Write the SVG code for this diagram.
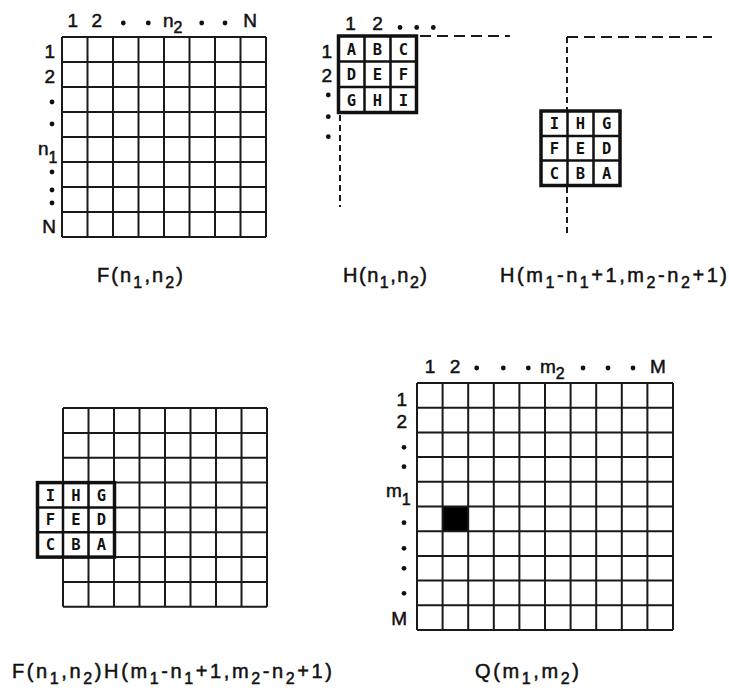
<svg xmlns="http://www.w3.org/2000/svg" width="729" height="697" viewBox="0 0 729 697">
<style>
.grid{fill:none;stroke:#1a1a1a;stroke-width:2}
.box{fill:#fff;stroke:#111;stroke-width:3.5}
.inner{fill:none;stroke:#111;stroke-width:2.5}
.dashh{fill:none;stroke:#1a1a1a;stroke-width:2;stroke-dasharray:11 6}
.dashv{fill:none;stroke:#1a1a1a;stroke-width:2;stroke-dasharray:6 4}
.ax{font-family:"Liberation Sans","DejaVu Sans",sans-serif;font-size:19px;fill:#111;stroke:#111;stroke-width:0.5}
.sub{font-size:16px}
.mid{text-anchor:middle}
.end{text-anchor:end}
.lt{font-family:"DejaVu Sans Mono","Liberation Mono",monospace;font-size:15.5px;font-weight:bold;fill:#111;text-anchor:middle}
.lab{font-family:"Liberation Sans","DejaVu Sans",sans-serif;font-size:20px;fill:#111;stroke:#111;stroke-width:0.5}
.dot{fill:#111}
</style>
<rect width="729" height="697" fill="#fff"/>

<g id="grid-F">
<path class="grid" d="M62 37V237M87.5 37V237M113 37V237M138.5 37V237M164 37V237M189.5 37V237M215 37V237M240.5 37V237M266 37V237M62 37H266M62 62H266M62 87H266M62 112H266M62 137H266M62 162H266M62 187H266M62 212H266M62 237H266"/>
<text class="ax mid" x="72.7" y="27">1</text>
<text class="ax mid" x="96.7" y="27">2</text>
<circle class="dot" cx="123.3" cy="23" r="2.4"/>
<circle class="dot" cx="148.3" cy="23" r="2.4"/>
<text class="ax" x="163" y="27">n<tspan class="sub" dy="6">2</tspan></text>
<circle class="dot" cx="201.7" cy="23" r="2.4"/>
<circle class="dot" cx="225" cy="23" r="2.4"/>
<text class="ax mid" x="250" y="27">N</text>
<text class="ax end" x="55" y="58">1</text>
<text class="ax end" x="55" y="83">2</text>
<circle class="dot" cx="52" cy="102" r="2.4"/>
<circle class="dot" cx="52" cy="124" r="2.4"/>
<text class="ax" x="38" y="155">n<tspan class="sub" dy="8">1</tspan></text>
<circle class="dot" cx="52" cy="172" r="2.4"/>
<circle class="dot" cx="52" cy="190" r="2.4"/>
<circle class="dot" cx="52" cy="203" r="2.4"/>
<text class="ax end" x="56" y="233">N</text>
<text class="lab" x="97" y="281.5" textLength="86" lengthAdjust="spacing">F(n<tspan class="sub" dy="6">1</tspan><tspan dy="-6">,n</tspan><tspan class="sub" dy="6">2</tspan><tspan dy="-6">)</tspan></text>
</g>

<g id="grid-H">
<path class="dashh" d="M420 36H510"/>
<path class="dashv" d="M340 115V207"/>
<rect class="box" x="338.5" y="36" width="78" height="76.5"/>
<path class="inner" d="M364.5 36V112.5M390.5 36V112.5M338.5 61.5H416.5M338.5 87H416.5"/>
<text class="lt" x="351.5" y="54.5">A</text>
<text class="lt" x="377.5" y="54.5">B</text>
<text class="lt" x="403.5" y="54.5">C</text>
<text class="lt" x="351.5" y="80">D</text>
<text class="lt" x="377.5" y="80">E</text>
<text class="lt" x="403.5" y="80">F</text>
<text class="lt" x="351.5" y="105.5">G</text>
<text class="lt" x="377.5" y="105.5">H</text>
<text class="lt" x="403.5" y="105.5">I</text>
<text class="ax mid" x="350.5" y="30">1</text>
<text class="ax mid" x="377.5" y="30">2</text>
<circle class="dot" cx="400" cy="27.5" r="2.4"/>
<circle class="dot" cx="416.7" cy="27.5" r="2.4"/>
<circle class="dot" cx="433.3" cy="27.5" r="2.4"/>
<text class="ax mid" x="326.7" y="58">1</text>
<text class="ax mid" x="326.7" y="81.7">2</text>
<circle class="dot" cx="328.3" cy="95" r="2.4"/>
<circle class="dot" cx="328.3" cy="116.7" r="2.4"/>
<circle class="dot" cx="328.3" cy="136.7" r="2.4"/>
<text class="lab" x="343" y="281.5" textLength="84" lengthAdjust="spacing">H(n<tspan class="sub" dy="6">1</tspan><tspan dy="-6">,n</tspan><tspan class="sub" dy="6">2</tspan><tspan dy="-6">)</tspan></text>
</g>

<g id="grid-H-flipped">
<path class="dashh" d="M567 37H712"/>
<path class="dashv" d="M567 37V236"/>
<rect class="box" x="541" y="111" width="79" height="74.5"/>
<path class="inner" d="M567.5 111V185.5M593.5 111V185.5M541 136H620M541 160.5H620"/>
<text class="lt" x="554.5" y="129">I</text>
<text class="lt" x="580.5" y="129">H</text>
<text class="lt" x="606.7" y="129">G</text>
<text class="lt" x="554.5" y="153.5">F</text>
<text class="lt" x="580.5" y="153.5">E</text>
<text class="lt" x="606.7" y="153.5">D</text>
<text class="lt" x="554.5" y="178.5">C</text>
<text class="lt" x="580.5" y="178.5">B</text>
<text class="lt" x="606.7" y="178.5">A</text>
<text class="lab" x="500" y="281.5" textLength="227" lengthAdjust="spacing">H(m<tspan class="sub" dy="6">1</tspan><tspan dy="-6">-n</tspan><tspan class="sub" dy="6">1</tspan><tspan dy="-6">+1,m</tspan><tspan class="sub" dy="6">2</tspan><tspan dy="-6">-n</tspan><tspan class="sub" dy="6">2</tspan><tspan dy="-6">+1)</tspan></text>
</g>

<g id="grid-FH">
<path class="grid" d="M63 408V606.8M88.5 408V606.8M114 408V606.8M139.5 408V606.8M165 408V606.8M190.5 408V606.8M216 408V606.8M241.5 408V606.8M267 408V606.8M63 408H267M63 432.9H267M63 457.7H267M63 482.6H267M63 507.4H267M63 532.3H267M63 557.1H267M63 582H267M63 606.8H267"/>
<rect class="box" x="37.5" y="482.6" width="77" height="74.5"/>
<path class="inner" d="M63 482.6V557.1M88.5 482.6V557.1M37.5 507.4H114.5M37.5 532.3H114.5"/>
<text class="lt" x="50.3" y="500.5">I</text>
<text class="lt" x="75.8" y="500.5">H</text>
<text class="lt" x="101.3" y="500.5">G</text>
<text class="lt" x="50.3" y="525.3">F</text>
<text class="lt" x="75.8" y="525.3">E</text>
<text class="lt" x="101.3" y="525.3">D</text>
<text class="lt" x="50.3" y="550">C</text>
<text class="lt" x="75.8" y="550">B</text>
<text class="lt" x="101.3" y="550">A</text>
<text class="lab" x="12" y="678" textLength="320" lengthAdjust="spacing">F(n<tspan class="sub" dy="6">1</tspan><tspan dy="-6">,n</tspan><tspan class="sub" dy="6">2</tspan><tspan dy="-6">)H(m</tspan><tspan class="sub" dy="6">1</tspan><tspan dy="-6">-n</tspan><tspan class="sub" dy="6">1</tspan><tspan dy="-6">+1,m</tspan><tspan class="sub" dy="6">2</tspan><tspan dy="-6">-n</tspan><tspan class="sub" dy="6">2</tspan><tspan dy="-6">+1)</tspan></text>
</g>

<g id="grid-Q">
<rect x="442.6" y="506.5" width="25.6" height="24.7" fill="#000"/>
<path class="grid" d="M417 383V630M442.6 383V630M468.2 383V630M493.8 383V630M519.4 383V630M545 383V630M570.6 383V630M596.2 383V630M621.8 383V630M647.4 383V630M673 383V630M417 383H673M417 407.7H673M417 432.4H673M417 457.1H673M417 481.8H673M417 506.5H673M417 531.2H673M417 555.9H673M417 580.6H673M417 605.3H673M417 630H673"/>
<text class="ax mid" x="430" y="373">1</text>
<text class="ax mid" x="455" y="373">2</text>
<circle class="dot" cx="476.7" cy="368" r="2.4"/>
<circle class="dot" cx="503.3" cy="368" r="2.4"/>
<circle class="dot" cx="528.3" cy="368" r="2.4"/>
<text class="ax" x="540" y="373">m<tspan class="sub" dy="6">2</tspan></text>
<circle class="dot" cx="583" cy="368" r="2.4"/>
<circle class="dot" cx="608" cy="368" r="2.4"/>
<circle class="dot" cx="633" cy="368" r="2.4"/>
<text class="ax mid" x="658" y="373">M</text>
<text class="ax end" x="407" y="406">1</text>
<text class="ax end" x="407" y="428">2</text>
<circle class="dot" cx="404" cy="447.3" r="2.4"/>
<circle class="dot" cx="404" cy="466.7" r="2.4"/>
<text class="ax" x="386" y="497">m<tspan class="sub" dy="8">1</tspan></text>
<circle class="dot" cx="404" cy="522.7" r="2.4"/>
<circle class="dot" cx="404" cy="548.3" r="2.4"/>
<circle class="dot" cx="404" cy="568.3" r="2.4"/>
<circle class="dot" cx="404" cy="593.3" r="2.4"/>
<text class="ax end" x="407" y="625">M</text>
<text class="lab" x="475" y="678" textLength="104" lengthAdjust="spacing">Q(m<tspan class="sub" dy="6">1</tspan><tspan dy="-6">,m</tspan><tspan class="sub" dy="6">2</tspan><tspan dy="-6">)</tspan></text>
</g>
</svg>
